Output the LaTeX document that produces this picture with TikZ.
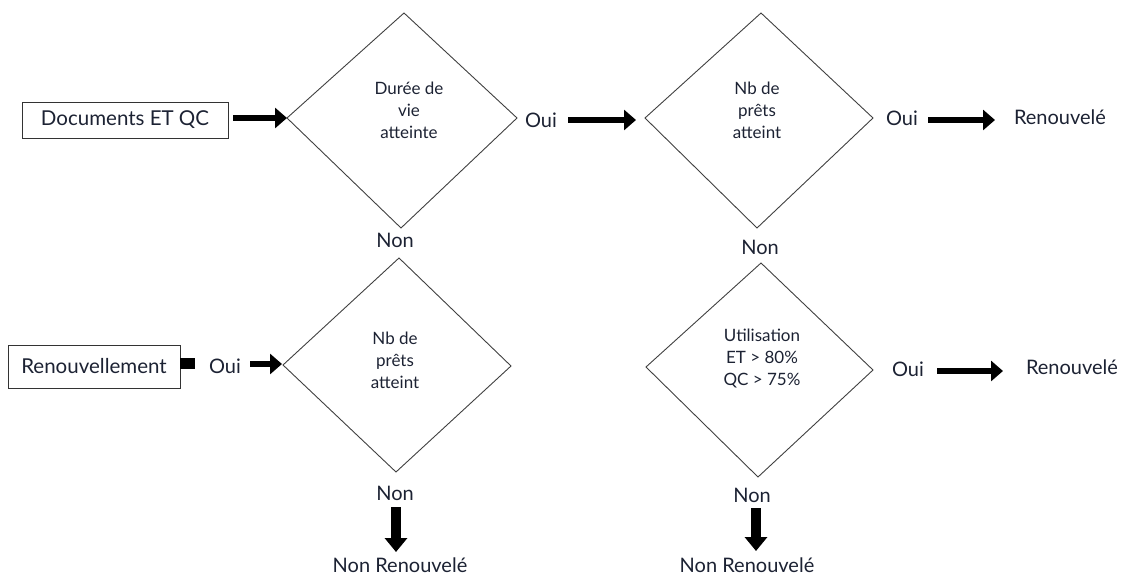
\documentclass[tikz,border=0pt]{standalone}
\usepackage{fontspec}
\setmainfont{Lato}
\usetikzlibrary{arrows.meta}
\definecolor{txt}{HTML}{1C2233}
\tikzset{
  lbl/.style={text=txt, font=\fontsize{20}{22}\selectfont, inner sep=0pt},
  dtext/.style={text=txt, font=\fontsize{17}{22}\selectfont, align=center, inner sep=0pt},
  boxnode/.style={draw=black!80, line width=0.9pt, text=txt, font=\fontsize{20.5}{22}\selectfont, inner sep=0pt},
  dia/.style={draw=black!75, line width=0.9pt},
  harrow/.style={line width=6pt, -{Triangle[length=12pt,width=20pt]}},
  varrow/.style={line width=10pt, -{Triangle[length=14pt,width=22pt]}},
}
\begin{document}
\begin{tikzpicture}[x=1pt,y=-1pt]
\useasboundingbox (0,0) rectangle (1125,577);
% boxes
\node[boxnode, minimum width=206pt, minimum height=36pt] (docs) at (125,120) {Documents ET QC};
\node[boxnode, minimum width=172pt, minimum height=43pt] (renouv) at (94,366.5) {Renouvellement};
\fill[black] (180,358) rectangle (195,369);
% diamond 1
\coordinate (d1t) at (404,13); \coordinate (d1l) at (287,118);
\coordinate (d1r) at (517,118); \coordinate (d1b) at (401,228);
\draw[dia] (d1t) -- (d1r) -- (d1b) -- (d1l) -- cycle;
\node[dtext] (d1) at (409,110) {Durée de\\vie\\atteinte};
% diamond 2
\coordinate (d2t) at (761,13); \coordinate (d2l) at (645,118);
\coordinate (d2r) at (873,118); \coordinate (d2b) at (757,228);
\draw[dia] (d2t) -- (d2r) -- (d2b) -- (d2l) -- cycle;
\node[dtext] (d2) at (757,110) {Nb de\\prêts\\atteint};
% diamond 3
\coordinate (d3t) at (399,258); \coordinate (d3l) at (283,365);
\coordinate (d3r) at (511,366); \coordinate (d3b) at (396,472);
\draw[dia] (d3t) -- (d3r) -- (d3b) -- (d3l) -- cycle;
\node[dtext] (d3) at (395,360) {Nb de\\prêts\\atteint};
% diamond 4
\coordinate (d4t) at (761,263); \coordinate (d4l) at (646,367);
\coordinate (d4r) at (873,370); \coordinate (d4b) at (758,477);
\draw[dia] (d4t) -- (d4r) -- (d4b) -- (d4l) -- cycle;
\node[dtext] (d4) at (762,358) {Utilisation\\ET > 80\%\\QC > 75\%};
% labels
\node[lbl] (oui1) at (541,120) {Oui};
\node[lbl] (oui2) at (902,118) {Oui};
\node[lbl] (ren1) at (1060,117) {Renouvelé};
\node[lbl] (non1) at (395,240) {Non};
\node[lbl] (non2) at (760,247) {Non};
\node[lbl] (oui3) at (225,366) {Oui};
\node[lbl] (non3) at (395,493) {Non};
\node[lbl] (nr1) at (400,565.5) {Non Renouvelé};
\node[lbl] (oui4) at (908,369) {Oui};
\node[lbl] (ren2) at (1072,367) {Renouvelé};
\node[lbl] (non4) at (752,495) {Non};
\node[lbl] (nr2) at (747,565.5) {Non Renouvelé};
% arrows
\coordinate (a1s) at (233,118);
\draw[harrow] (a1s) -- (d1l);
\coordinate (a2s) at (568,120); \coordinate (a2e) at (636,120);
\draw[harrow] (a2s) -- (a2e);
\coordinate (a3s) at (928,120); \coordinate (a3e) at (995,120);
\draw[harrow] (a3s) -- (a3e);
\coordinate (a4s) at (250,364); \coordinate (a4e) at (282,364);
\draw[harrow] (a4s) -- (a4e);
\coordinate (a5s) at (937,371); \coordinate (a5e) at (1003,371);
\draw[harrow] (a5s) -- (a5e);
\coordinate (a6s) at (396,507); \coordinate (a6e) at (396,552);
\draw[varrow] (a6s) -- (a6e);
\coordinate (a7s) at (756,508); \coordinate (a7e) at (756,551);
\draw[varrow] (a7s) -- (a7e);
\end{tikzpicture}
\end{document}
